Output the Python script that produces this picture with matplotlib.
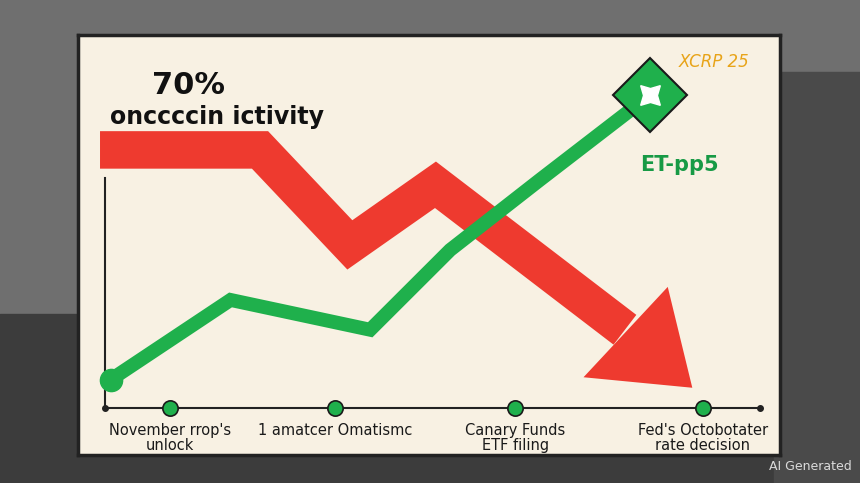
import numpy as np
import matplotlib.pyplot as plt
from matplotlib.patches import Polygon

# red (falling) series
red_x = [3.1, 25.9, 38.7, 50.9, 77.9]
red_y = [72.6, 72.6, 50.0, 64.3, 29.8]
red_head = [(72.0, 18.5), (84.0, 40.0), (87.5, 16.0)]

# green (rising) series
green_x = [4.6, 21.7, 41.6, 53.0, 65.8, 81.5]
green_y = [17.9, 36.9, 29.8, 48.8, 65.5, 85.7]

# timeline events
event_x = [13.1, 36.6, 62.3, 89.0]
event_labels = ["November rrop's\nunlock", "1 amatcer Omatismc",
                "Canary Funds\nETF filing", "Fed's Octobotater\nrate decision"]

fig = plt.figure(figsize=(8.6, 4.83), dpi=100)
fig.patch.set_facecolor('#6f6f6f')
bg = fig.add_axes([0, 0, 1, 1])
bg.set_xlim(0, 1); bg.set_ylim(0, 1); bg.axis('off')
bg.fill_between([0, 1], 0, 0.35, color='#3c3c3c')
bg.fill_between([0.9, 1], 0, 0.85, color='#4a4a4a')
bg.text(0.99, 0.02, 'AI Generated', color='white', fontsize=9, ha='right', va='bottom', alpha=0.8)

ax = fig.add_axes([0.091, 0.058, 0.816, 0.870])
ax.set_facecolor('#f8f1e3')
ax.set_xlim(0, 100); ax.set_ylim(0, 100)
ax.set_xticks([]); ax.set_yticks([])
for s in ax.spines.values():
    s.set_color('#222222'); s.set_linewidth(2.5)

# axes
ax.plot([3.8, 3.8], [11.2, 66], color='#222222', lw=1.5)
ax.plot([3.8, 97.2], [11.2, 11.2], color='#222222', lw=1.5)
ax.plot([3.8, 97.2], [11.2, 11.2], 'o', color='#222222', ms=4)

# red line with arrow head
ax.plot(red_x, red_y, color='#ee3a2f', lw=27, solid_joinstyle='miter', solid_capstyle='butt')
ax.add_patch(Polygon(red_head, closed=True, color='#ee3a2f', lw=0))

# green line
ax.plot(green_x, green_y, color='#1fb04c', lw=10, solid_joinstyle='miter')
ax.plot(green_x[0], green_y[0], 'o', color='#1fb04c', ms=16)
ax.plot(green_x[-1], green_y[-1], 'D', color='#1fb04c', ms=38, mec='#1a1a1a', mew=1.5)
ax.plot(green_x[-1], green_y[-1], marker=(4, 1, 45), color='white', ms=20)

# timeline events
ax.plot(event_x, [11.2] * len(event_x), 'o', color='#1fb04c', ms=11, mec='#1a1a1a', mew=1.2)
for x, lab in zip(event_x, event_labels):
    ax.text(x, 7.5, lab, ha='center', va='top', fontsize=10.5, color='#1a1a1a', linespacing=1.0)

ax.text(10.5, 88, '70%', fontsize=22, fontweight='bold', color='#111111', va='center')
ax.text(4.5, 80.5, 'onccccin ictivity', fontsize=17, fontweight='bold', color='#111111', va='center')
ax.text(85.5, 93.5, 'XCRP 25', fontsize=12, color='#e8a419', va='center', style='italic')
ax.text(80, 69, 'ET-pp5', fontsize=15, fontweight='bold', color='#179a45', va='center')

fig.savefig('out.png', dpi=100, facecolor=fig.get_facecolor())
